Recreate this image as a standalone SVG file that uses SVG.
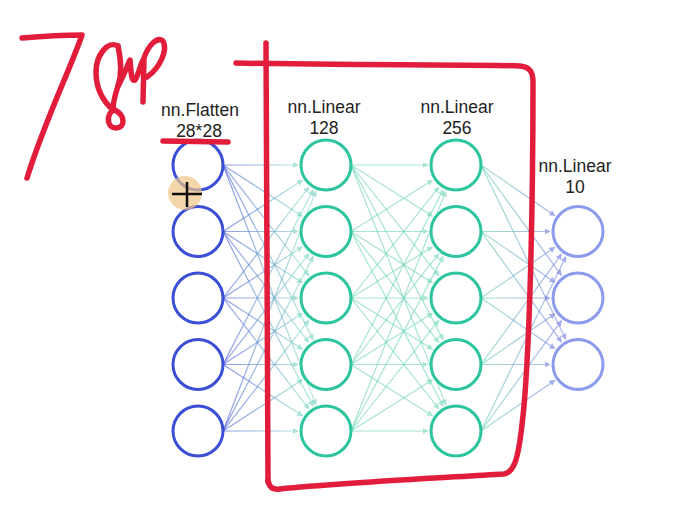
<svg xmlns="http://www.w3.org/2000/svg" width="688" height="518" viewBox="0 0 688 518">
<style>
.bg{fill:#ffffff}
.n1{fill:none;stroke:#3b4fd6;stroke-width:3}
.n2{fill:none;stroke:#2dc4a0;stroke-width:3}
.n4{fill:none;stroke:#8c9beb;stroke-width:3}
.lbl{font-family:"Liberation Sans",Arial,sans-serif;font-size:17.5px;fill:#222;text-anchor:middle}
.c12{stroke:url(#g12);stroke-width:1.2;opacity:.6;marker-end:url(#a12)}
.c23{stroke:#5fd0b2;stroke-width:1.2;opacity:.55;marker-end:url(#a23)}
.c34{stroke:url(#g34);stroke-width:1.2;opacity:.6;marker-end:url(#a34)}
.red{fill:none;stroke:#e21d3c;stroke-width:5.5;stroke-linecap:round;stroke-linejoin:round}
</style>
<defs>
<linearGradient id="g12" gradientUnits="userSpaceOnUse" x1="223" y1="0" x2="300" y2="0">
<stop offset="0" stop-color="#4555d8"/><stop offset="1" stop-color="#7fd6c4"/>
</linearGradient>
<linearGradient id="g34" gradientUnits="userSpaceOnUse" x1="481" y1="0" x2="555" y2="0">
<stop offset="0" stop-color="#5fcfae"/><stop offset="1" stop-color="#7484e0"/>
</linearGradient>
<marker id="a12" viewBox="0 0 10 10" refX="9" refY="5" markerWidth="6" markerHeight="6" markerUnits="userSpaceOnUse" orient="auto"><path d="M0,0 L10,5 L0,10 z" fill="#6fcfc0"/></marker>
<marker id="a23" viewBox="0 0 10 10" refX="9" refY="5" markerWidth="6" markerHeight="6" markerUnits="userSpaceOnUse" orient="auto"><path d="M0,0 L10,5 L0,10 z" fill="#5fd0b2"/></marker>
<marker id="a34" viewBox="0 0 10 10" refX="9" refY="5" markerWidth="6" markerHeight="6" markerUnits="userSpaceOnUse" orient="auto"><path d="M0,0 L10,5 L0,10 z" fill="#6878dc"/></marker>
</defs>
<rect class="bg" x="0" y="0" width="688" height="518"/>

<g id="connectors">
<g id="c-l1-l2">
<line class="c12" x1="223" y1="165" x2="298" y2="165"/>
<line class="c12" x1="223" y1="165" x2="302.5" y2="216.3"/>
<line class="c12" x1="223" y1="165" x2="308.9" y2="275.9"/>
<line class="c12" x1="223" y1="165" x2="313.2" y2="339.6"/>
<line class="c12" x1="223" y1="165" x2="315.9" y2="404.9"/>
<line class="c12" x1="223" y1="231.5" x2="302.5" y2="180.2"/>
<line class="c12" x1="223" y1="231.5" x2="298" y2="231.5"/>
<line class="c12" x1="223" y1="231.5" x2="302.5" y2="282.8"/>
<line class="c12" x1="223" y1="231.5" x2="308.9" y2="342.4"/>
<line class="c12" x1="223" y1="231.5" x2="313.2" y2="406.1"/>
<line class="c12" x1="223" y1="298" x2="308.9" y2="187.1"/>
<line class="c12" x1="223" y1="298" x2="302.5" y2="246.7"/>
<line class="c12" x1="223" y1="298" x2="298" y2="298"/>
<line class="c12" x1="223" y1="298" x2="302.5" y2="349.3"/>
<line class="c12" x1="223" y1="298" x2="308.9" y2="408.9"/>
<line class="c12" x1="223" y1="364.5" x2="313.2" y2="189.9"/>
<line class="c12" x1="223" y1="364.5" x2="308.9" y2="253.6"/>
<line class="c12" x1="223" y1="364.5" x2="302.5" y2="313.2"/>
<line class="c12" x1="223" y1="364.5" x2="298" y2="364.5"/>
<line class="c12" x1="223" y1="364.5" x2="302.5" y2="415.8"/>
<line class="c12" x1="223" y1="431" x2="315.9" y2="191.1"/>
<line class="c12" x1="223" y1="431" x2="313.2" y2="256.4"/>
<line class="c12" x1="223" y1="431" x2="308.9" y2="320.1"/>
<line class="c12" x1="223" y1="431" x2="302.5" y2="379.7"/>
<line class="c12" x1="223" y1="431" x2="298" y2="431"/>
</g>
<g id="c-l2-l3">
<line class="c23" x1="351" y1="165" x2="428" y2="165"/>
<line class="c23" x1="351" y1="165" x2="432.5" y2="216.3"/>
<line class="c23" x1="351" y1="165" x2="438.9" y2="275.9"/>
<line class="c23" x1="351" y1="165" x2="443.2" y2="339.6"/>
<line class="c23" x1="351" y1="165" x2="445.9" y2="404.9"/>
<line class="c23" x1="351" y1="231.5" x2="432.5" y2="180.2"/>
<line class="c23" x1="351" y1="231.5" x2="428" y2="231.5"/>
<line class="c23" x1="351" y1="231.5" x2="432.5" y2="282.8"/>
<line class="c23" x1="351" y1="231.5" x2="438.9" y2="342.4"/>
<line class="c23" x1="351" y1="231.5" x2="443.2" y2="406.1"/>
<line class="c23" x1="351" y1="298" x2="438.9" y2="187.1"/>
<line class="c23" x1="351" y1="298" x2="432.5" y2="246.7"/>
<line class="c23" x1="351" y1="298" x2="428" y2="298"/>
<line class="c23" x1="351" y1="298" x2="432.5" y2="349.3"/>
<line class="c23" x1="351" y1="298" x2="438.9" y2="408.9"/>
<line class="c23" x1="351" y1="364.5" x2="443.2" y2="189.9"/>
<line class="c23" x1="351" y1="364.5" x2="438.9" y2="253.6"/>
<line class="c23" x1="351" y1="364.5" x2="432.5" y2="313.2"/>
<line class="c23" x1="351" y1="364.5" x2="428" y2="364.5"/>
<line class="c23" x1="351" y1="364.5" x2="432.5" y2="415.8"/>
<line class="c23" x1="351" y1="431" x2="445.9" y2="191.1"/>
<line class="c23" x1="351" y1="431" x2="443.2" y2="256.4"/>
<line class="c23" x1="351" y1="431" x2="438.9" y2="320.1"/>
<line class="c23" x1="351" y1="431" x2="432.5" y2="379.7"/>
<line class="c23" x1="351" y1="431" x2="428" y2="431"/>
</g>
<g id="c-l3-l4">
<line class="c34" x1="481" y1="165" x2="554.9" y2="215.7"/>
<line class="c34" x1="481" y1="165" x2="561.5" y2="275.4"/>
<line class="c34" x1="481" y1="165" x2="565.8" y2="339.3"/>
<line class="c34" x1="481" y1="231.5" x2="550" y2="231.5"/>
<line class="c34" x1="481" y1="231.5" x2="554.9" y2="282.2"/>
<line class="c34" x1="481" y1="231.5" x2="561.5" y2="341.9"/>
<line class="c34" x1="481" y1="298" x2="554.9" y2="247.3"/>
<line class="c34" x1="481" y1="298" x2="550" y2="298"/>
<line class="c34" x1="481" y1="298" x2="554.9" y2="348.7"/>
<line class="c34" x1="481" y1="364.5" x2="561.5" y2="254.1"/>
<line class="c34" x1="481" y1="364.5" x2="554.9" y2="313.8"/>
<line class="c34" x1="481" y1="364.5" x2="550" y2="364.5"/>
<line class="c34" x1="481" y1="431" x2="565.8" y2="256.7"/>
<line class="c34" x1="481" y1="431" x2="561.5" y2="320.6"/>
<line class="c34" x1="481" y1="431" x2="554.9" y2="380.3"/>
</g>
</g>

<g id="layer-flatten">
<text class="lbl" x="200" y="116">nn.Flatten</text>
<text class="lbl" x="199" y="137">28*28</text>
<circle id="f1" class="n1" cx="198" cy="165" r="25"/>
<circle id="f2" class="n1" cx="198" cy="231.5" r="25"/>
<circle id="f3" class="n1" cx="198" cy="298" r="25"/>
<circle id="f4" class="n1" cx="198" cy="364.5" r="25"/>
<circle id="f5" class="n1" cx="198" cy="431" r="25"/>
</g>
<g id="layer-linear128">
<text class="lbl" x="324" y="113">nn.Linear</text>
<text class="lbl" x="324" y="134">128</text>
<circle id="h1" class="n2" cx="326" cy="165" r="25"/>
<circle id="h2" class="n2" cx="326" cy="231.5" r="25"/>
<circle id="h3" class="n2" cx="326" cy="298" r="25"/>
<circle id="h4" class="n2" cx="326" cy="364.5" r="25"/>
<circle id="h5" class="n2" cx="326" cy="431" r="25"/>
</g>
<g id="layer-linear256">
<text class="lbl" x="457" y="113">nn.Linear</text>
<text class="lbl" x="457" y="134">256</text>
<circle id="k1" class="n2" cx="456" cy="165" r="25"/>
<circle id="k2" class="n2" cx="456" cy="231.5" r="25"/>
<circle id="k3" class="n2" cx="456" cy="298" r="25"/>
<circle id="k4" class="n2" cx="456" cy="364.5" r="25"/>
<circle id="k5" class="n2" cx="456" cy="431" r="25"/>
</g>
<g id="layer-linear10">
<text class="lbl" x="575" y="172">nn.Linear</text>
<text class="lbl" x="575" y="193">10</text>
<circle id="o1" class="n4" cx="578" cy="231.5" r="25"/>
<circle id="o2" class="n4" cx="578" cy="298" r="25"/>
<circle id="o3" class="n4" cx="578" cy="364.5" r="25"/>
</g>

<g id="annotations">
<path class="red" d="M22,38 C45,36 65,35 82,35 C70,70 45,120 27,178"/>
<path class="red" d="M118,46 C108,40 96,55 96,72 C96,90 104,102 113,110 C106,116 107,128 116,128 C125,128 126,116 115,110"/>
<path class="red" d="M118,46 C121,60 122,75 118,86 C115,95 113,102 113,110"/>
<path class="red" d="M118,86 C123,78 127,66 130,60 C131,70 131,82 135,80 C138,76 140,66 143,60"/>
<path class="red" d="M143,102 L144,58 C148,46 157,36 163,41 C168,50 160,68 147,77"/>
<path class="red" d="M163,141 L228,142"/>
<path class="red" d="M266,43 L268,482"/>
<path class="red" d="M236,63 C380,66 480,64 520,66 C530,67 533,72 533,82 C533,200 530,360 522,425 C518,460 514,472 504,474 C420,479 340,483 280,489 C272,490 269,487 268,480"/>
</g>

<g id="cursor">
<circle cx="185" cy="193" r="17" fill="#f0c488" opacity="0.7"/>
<path d="M172,194 L202,194 M187,182 L187,207" stroke="#111" stroke-width="2.5" fill="none"/>
</g>
</svg>
